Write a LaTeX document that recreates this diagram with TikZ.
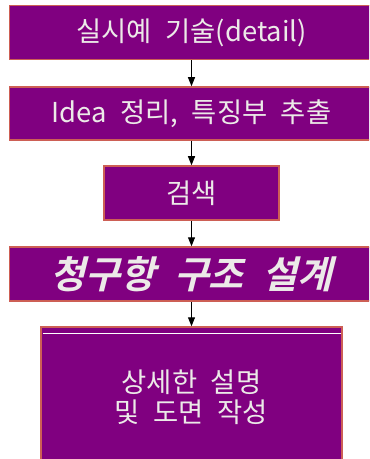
\documentclass[tikz,border=0pt]{standalone}
\usepackage{fontspec}
\setmainfont{Noto Sans CJK KR}[WordSpace=2.2]
\newfontfamily\krbi{Noto Sans CJK KR Bold}[FakeSlant=0.25, WordSpace=2.2]
\usetikzlibrary{arrows.meta}
\definecolor{boxfill}{RGB}{128,0,128}
\definecolor{boxline}{RGB}{205,95,85}
\definecolor{boxtext}{RGB}{236,234,232}
\tikzset{
  box/.style={draw=boxline, line width=1.5bp, fill=boxfill, text=boxtext,
    font=\fontsize{27.5}{30}\selectfont, align=center, inner sep=0pt},
  arr/.style={-{Triangle[length=9bp,width=7bp]}, line width=1.1bp, black}
}
\begin{document}
\begin{tikzpicture}[x=1bp,y=-1bp]
\useasboundingbox (0,0) rectangle (369,459);
\clip (0,0) rectangle (369,459);
\node[box, minimum width=364bp, minimum height=54bp] (b1) at (191.5,32.5) {실시예 기술(detail)};
\node[box, minimum width=364bp, minimum height=53bp] (b2) at (191.5,113.5) {Idea 정리, 특징부 추출};
\node[box, minimum width=175bp, minimum height=54bp] (b3) at (191.5,193) {검색};
\node[box, minimum width=364bp, minimum height=54bp, font=\krbi\fontsize{38}{30}\selectfont] (b4) at (191.5,274) {청구항 구조 설계};
\node[box, minimum width=301bp, minimum height=140bp] (b5) at (191.5,397) {상세한 설명\\및 도면 작성};
\coordinate (wl1) at (42.5,333.5);
\coordinate (wl2) at (340.5,333.5);
\draw[white, line width=1bp] (wl1) -- (wl2);
\draw[arr] (b1.south) -- (b2.north);
\draw[arr] (b2.south) -- (b3.north);
\draw[arr] (b3.south) -- (b4.north);
\draw[arr] (b4.south) -- (b5.north);
\end{tikzpicture}
\end{document}
